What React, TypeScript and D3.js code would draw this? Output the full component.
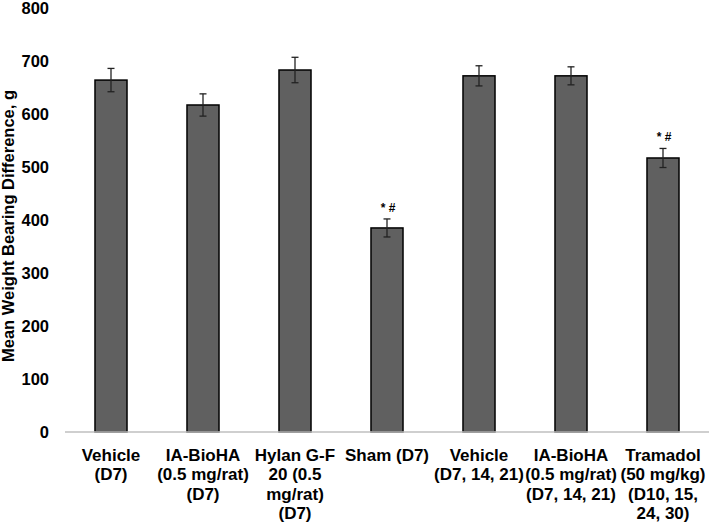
import React from "react";
import * as d3 from "d3";

const categoryLines: string[][] = [
  ["Vehicle", "(D7)"],
  ["IA-BioHA", "(0.5 mg/rat)", "(D7)"],
  ["Hylan G-F", "20 (0.5", "mg/rat)", "(D7)"],
  ["Sham (D7)"],
  ["Vehicle", "(D7, 14, 21)"],
  ["IA-BioHA", "(0.5 mg/rat)", "(D7, 14, 21)"],
  ["Tramadol", "(50 mg/kg)", "(D10, 15,", "24, 30)"],
];
const meanValues = [664, 617, 683, 385, 672, 672, 517];
const errorValues = [22, 21, 24, 17, 19, 17, 18];
const annotations = ["", "", "", "* #", "", "", "* #"];
const yTicks = [0, 100, 200, 300, 400, 500, 600, 700, 800];
const yTitle = "Mean Weight Bearing Difference, g";

const W = 709;
const H = 524;
const FONT = "'Liberation Sans', Arial, sans-serif";

export default function App() {
  const idx = categoryLines.map((_, i) => String(i));
  const x = d3.scaleBand<string>().domain(idx).range([65, 709]).paddingInner(0.652).paddingOuter(0.326);
  const y = d3.scaleLinear().domain([0, 800]).range([432, 8]);
  const bw = x.bandwidth();
  const cap = 3.5;

  return (
    <svg width={W} height={H} style={{ position: "absolute", left: 0, top: 0, background: "#fff" }} fontFamily={FONT}>
      <rect x={0} y={0} width={W} height={H} fill="#fff" />
      {yTicks.map((t) => (
        <text key={t} x={49} y={y(t)} textAnchor="end" dominantBaseline="central" fontSize={16.5} fontWeight="bold" fill="#000">
          {t}
        </text>
      ))}
      <text
        transform={`translate(14,${226}) rotate(-90)`}
        textAnchor="middle"
        fontSize={16.5}
        fontWeight="bold"
        fill="#000"
      >
        {yTitle}
      </text>
      {meanValues.map((v, i) => {
        const x0 = x(String(i))!;
        const cx = x0 + bw / 2;
        const top = y(v + errorValues[i]);
        const bot = y(v - errorValues[i]);
        return (
          <g key={i}>
            <rect x={x0} y={y(v)} width={bw} height={y(0) - y(v)} fill="#606060" stroke="#000" strokeWidth={1.5} />
            <line x1={cx} x2={cx} y1={top} y2={bot} stroke="#222" strokeWidth={1.3} />
            <line x1={cx - cap} x2={cx + cap} y1={top} y2={top} stroke="#222" strokeWidth={1.3} />
            <line x1={cx - cap} x2={cx + cap} y1={bot} y2={bot} stroke="#222" strokeWidth={1.3} />
            {annotations[i] && (
              <text x={cx + 1} y={top - 7} textAnchor="middle" fontSize={12} fontWeight="bold" fill="#000">
                {annotations[i]}
              </text>
            )}
          </g>
        );
      })}
      <line x1={65} x2={709} y1={y(0)} y2={y(0)} stroke="#bfbfbf" strokeWidth={1.3} />
      {categoryLines.map((lines, i) => {
        const cx = x(String(i))! + bw / 2;
        return (
          <text key={i} textAnchor="middle" fontSize={17} fontWeight="bold" fill="#000">
            {lines.map((l, j) => (
              <tspan key={j} x={cx} y={461 + j * 19.3}>
                {l}
              </tspan>
            ))}
          </text>
        );
      })}
    </svg>
  );
}
